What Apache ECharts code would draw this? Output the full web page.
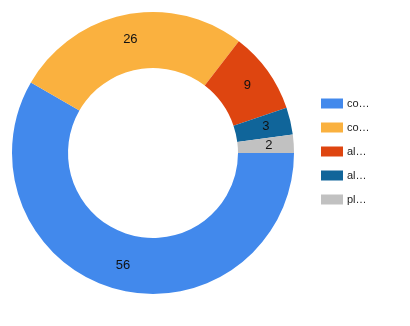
<!DOCTYPE html>
<html><head><meta charset="utf-8">
<script src="https://cdn.jsdelivr.net/npm/echarts@6/dist/echarts.min.js"></script>
<style>html,body{margin:0;padding:0;background:#fff}#c{width:410px;height:326px}</style>
</head><body><div id="c"></div>
<script>
const categories = ['co\u2026', 'co\u2026 ', 'al\u2026', 'al\u2026 ', 'pl\u2026'];
const values = [56, 26, 9, 3, 2];
const colors = ['#4289EC', '#FAB13F', '#DE4510', '#10659A', '#C1C1C1'];

const chart = echarts.init(document.getElementById('c'), null, {renderer: 'canvas'});
chart.setOption({
  animation: false,
  color: colors,
  legend: {
    orient: 'vertical',
    left: 321, top: 98, padding: 0,
    itemWidth: 22, itemHeight: 10, itemGap: 13,
    icon: 'rect',
    textStyle: {fontFamily: 'Liberation Sans, Arial', fontSize: 11, color: '#222', lineHeight: 10, padding: [0,0,0,-1]},
    data: categories
  },
  series: [{
    type: 'pie',
    center: [153, 153],
    radius: [85, 141],
    startAngle: 0,
    clockwise: true,
    avoidLabelOverlap: false,
    label: {show: true, position: 'inside', formatter: '{c}', color: '#111', fontFamily: 'Liberation Sans, Arial', fontSize: 13},
    labelLine: {show: false},
    itemStyle: {borderWidth: 0},
    emphasis: {disabled: true},
    data: categories.map((n, i) => ({name: n, value: values[i]}))
  }]
});
</script></body></html>
